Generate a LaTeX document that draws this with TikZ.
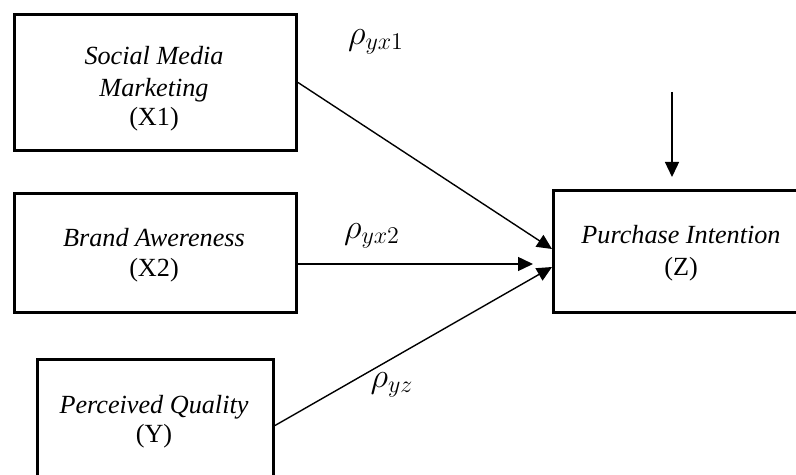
\documentclass[tikz,border=0pt]{standalone}
\usepackage{fontspec}
\setmainfont{Liberation Serif}
\usetikzlibrary{arrows.meta}
\begin{document}
\begin{tikzpicture}[x=0.5pt,y=-0.5pt,
  box/.style={draw,line width=1.5pt,inner sep=0pt,anchor=north west},
  lbl/.style={font=\fontsize{13.1}{15}\selectfont\itshape,align=center,inner sep=0pt,anchor=base},
  coef/.style={font=\fontsize{17}{20}\selectfont,inner sep=0pt},
  conn/.style={line width=0.7pt,-{Triangle[length=7.5pt,width=7pt]}}]
\useasboundingbox (0,0) rectangle (796,475);
\clip (0,0) rectangle (796,475);
% boxes
\node[box,minimum width=141pt,minimum height=68pt] (X1) at (13,13) {};
\node[box,minimum width=141pt,minimum height=59.5pt] (X2) at (13,192) {};
\node[box,minimum width=118pt,minimum height=66pt] (Y) at (36,358) {};
\node[box,minimum width=130pt,minimum height=61pt] (Z) at (552,189) {};
% texts
\node[lbl] (tX1a) at (154,65) {Social Media};
\node[lbl] (tX1b) at (154,97) {Marketing};
\node[lbl] (tX1c) at (154,126) {\upshape(X1)};
\node[lbl] (tX2a) at (154,247) {Brand Awereness};
\node[lbl] (tX2b) at (154,277) {\upshape(X2)};
\node[lbl] (tYa) at (154,413) {Perceived Quality};
\node[lbl] (tYb) at (154,442) {\upshape(Y)};
\node[lbl] (tZa) at (681,244) {Purchase Intention};
\node[lbl] (tZb) at (681,276) {\upshape(Z)};
% coefficients
\node[coef] (r1) at (376,42) {$\rho_{yx1}$};
\node[coef] (r2) at (372,236) {$\rho_{yx2}$};
\node[coef] (r3) at (392,385) {$\rho_{yz}$};
% connectors
\coordinate (e1) at (552,249);
\coordinate (e2) at (533,264);
\coordinate (e3) at (552,267);
\coordinate (s2) at (295,264);
\coordinate (tp) at (672,92);
\coordinate (tb) at (672,177);
\draw[conn] (X1.east) -- (e1);
\draw[conn] (s2) -- (e2);
\draw[conn] (Y.east) -- (e3);
\draw[conn] (tp) -- (tb);
\end{tikzpicture}
\end{document}
